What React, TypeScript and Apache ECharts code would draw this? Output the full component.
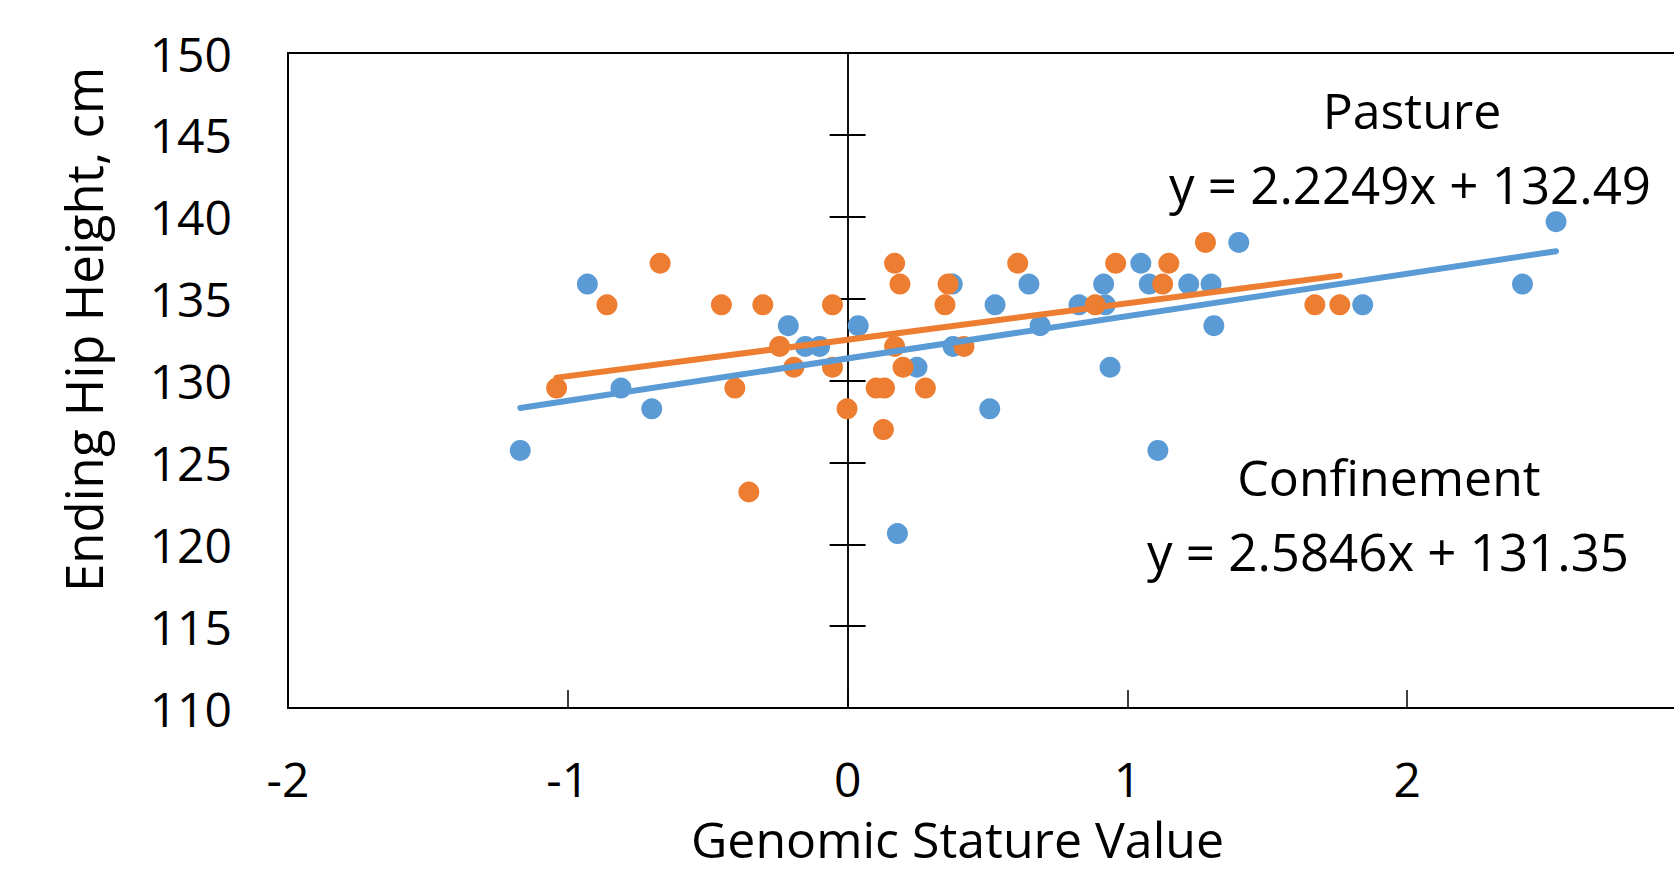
import React, { useEffect, useRef } from "react";
import * as echarts from "echarts";

const confinementX = [-1.17, -0.93, -0.81, -0.70, -0.212, -0.151, -0.100, 0.038, 0.178, 0.248, 0.374, 0.377, 0.508, 0.527, 0.648, 0.688, 0.827, 0.915, 0.921, 0.938, 1.048, 1.078, 1.109, 1.219, 1.299, 1.309, 1.398, 1.841, 2.412, 2.532];
const confinementY = [125.73, 135.89, 129.54, 128.27, 133.35, 132.08, 132.08, 133.35, 120.65, 130.81, 135.89, 132.08, 128.27, 134.62, 135.89, 133.35, 134.62, 135.89, 134.62, 130.81, 137.16, 135.89, 125.73, 135.89, 135.89, 133.35, 138.43, 134.62, 135.89, 139.7];

const pastureX = [-1.04, -0.86, -0.67, -0.451, -0.403, -0.353, -0.303, -0.243, -0.192, -0.054, -0.054, -0.002, 0.102, 0.132, 0.128, 0.168, 0.187, 0.168, 0.198, 0.278, 0.348, 0.359, 0.416, 0.608, 0.885, 0.958, 1.126, 1.148, 1.279, 1.670, 1.759];
const pastureY = [129.54, 134.62, 137.16, 134.62, 129.54, 123.19, 134.62, 132.08, 130.81, 134.62, 130.81, 128.27, 129.54, 129.54, 127.0, 137.16, 135.89, 132.08, 130.81, 129.54, 134.62, 135.89, 132.08, 137.16, 134.62, 137.16, 135.89, 137.16, 138.43, 134.62, 134.62];

const seriesNames = ["Confinement", "Pasture"];
const trendSlopes = [2.5846, 2.2249];
const trendIntercepts = [131.35, 132.49];
const equationTexts = ["y = 2.5846x + 131.35", "y = 2.2249x + 132.49"];

const xMin = -2;
const xMax = 3;
const xInterval = 1;
const yMin = 110;
const yMax = 150;
const yInterval = 5;

const BLUE = "#5B9BD5";
const ORANGE = "#ED7D31";
const FONT = "'Open Sans', 'Noto Sans', sans-serif";

function zip(xs: number[], ys: number[]) {
  return xs.map((x, i) => [x, ys[i]]);
}

function trend(xs: number[], slope: number, intercept: number) {
  const lo = Math.min(...xs);
  const hi = Math.max(...xs);
  return [
    [lo, slope * lo + intercept],
    [hi, slope * hi + intercept],
  ];
}

export default function App() {
  const ref = useRef<HTMLDivElement>(null);

  useEffect(() => {
    if (!ref.current) return;
    const chart = echarts.init(ref.current, undefined, { renderer: "svg" });
    const zeroAxisBase = {
      type: "value",
      min: yMin,
      max: yMax,
      interval: yInterval,
      axisLabel: { show: false },
      splitLine: { show: false },
      axisLine: { show: true, onZero: true, onZeroAxisIndex: 0, lineStyle: { color: "#000", width: 1.5 } },
    };
    chart.setOption({
      animation: false,
      backgroundColor: "#fff",
      grid: {
        left: 288,
        top: 53,
        width: 1399,
        height: 655,
        show: true,
        borderColor: "#000",
        borderWidth: 2,
        backgroundColor: "transparent",
      },
      xAxis: {
        type: "value",
        min: xMin,
        max: xMax,
        interval: xInterval,
        name: "Genomic Stature Value",
        nameLocation: "middle",
        nameGap: 106,
        nameTextStyle: { fontFamily: FONT, fontSize: 50, color: "#000", padding: [0, 60, 0, 0] },
        axisLine: { show: true, onZero: false, lineStyle: { color: "#000", width: 2 } },
        axisTick: { show: true, inside: true, length: 18, lineStyle: { color: "#000", width: 1.5 } },
        axisLabel: { fontFamily: FONT, fontSize: 48, color: "#000", margin: 46, showMaxLabel: false },
        splitLine: { show: false },
      },
      yAxis: [
        {
          type: "value",
          position: "left",
          min: yMin,
          max: yMax,
          interval: yInterval,
          name: "Ending Hip Height, cm",
          nameLocation: "middle",
          nameGap: 180,
          nameTextStyle: { fontFamily: FONT, fontSize: 51, color: "#000", padding: [0, 0, 0, 102] },
          axisLine: { show: false, onZero: false },
          axisTick: { show: false },
          axisLabel: { fontFamily: FONT, fontSize: 48, color: "#000", margin: 56 },
          splitLine: { show: false },
        },
        {
          ...zeroAxisBase,
          position: "left",
          axisTick: { show: true, inside: false, length: 18, lineStyle: { color: "#000", width: 2 } },
        },
        {
          ...zeroAxisBase,
          position: "right",
          axisTick: { show: true, inside: false, length: 18, lineStyle: { color: "#000", width: 2 } },
        },
      ],
      graphic: [
        { type: "text", x: 1412, y: 110, style: { text: seriesNames[1], font: `50px ${FONT}`, fill: "#000", align: "center", verticalAlign: "middle" } },
        { type: "text", x: 1410, y: 184, style: { text: equationTexts[1], font: `51px ${FONT}`, fill: "#000", align: "center", verticalAlign: "middle" } },
        { type: "text", x: 1389, y: 477, style: { text: seriesNames[0], font: `50px ${FONT}`, fill: "#000", align: "center", verticalAlign: "middle" } },
        { type: "text", x: 1388, y: 551, style: { text: equationTexts[0], font: `51px ${FONT}`, fill: "#000", align: "center", verticalAlign: "middle" } },
      ],
      series: [
        {
          name: seriesNames[0],
          type: "scatter",
          data: zip(confinementX, confinementY),
          symbolSize: 21,
          itemStyle: { color: BLUE, opacity: 1 },
          z: 3,
        },
        {
          name: seriesNames[1],
          type: "scatter",
          data: zip(pastureX, pastureY),
          symbolSize: 21,
          itemStyle: { color: ORANGE, opacity: 1 },
          z: 4,
        },
        {
          name: seriesNames[0] + " trend",
          type: "line",
          data: trend(confinementX, trendSlopes[0], trendIntercepts[0]),
          showSymbol: false,
          symbol: "none",
          lineStyle: { color: BLUE, width: 6, cap: "round" },
          z: 5,
        },
        {
          name: seriesNames[1] + " trend",
          type: "line",
          data: trend(pastureX, trendSlopes[1], trendIntercepts[1]),
          showSymbol: false,
          symbol: "none",
          lineStyle: { color: ORANGE, width: 6, cap: "round" },
          z: 6,
        },
      ],
    });
    return () => chart.dispose();
  }, []);

  return (
    <div style={{ position: "absolute", left: 0, top: 0, width: 1674, height: 873, overflow: "hidden", background: "#fff" }}>
      <div ref={ref} style={{ width: 1720, height: 873 }} />
    </div>
  );
}
